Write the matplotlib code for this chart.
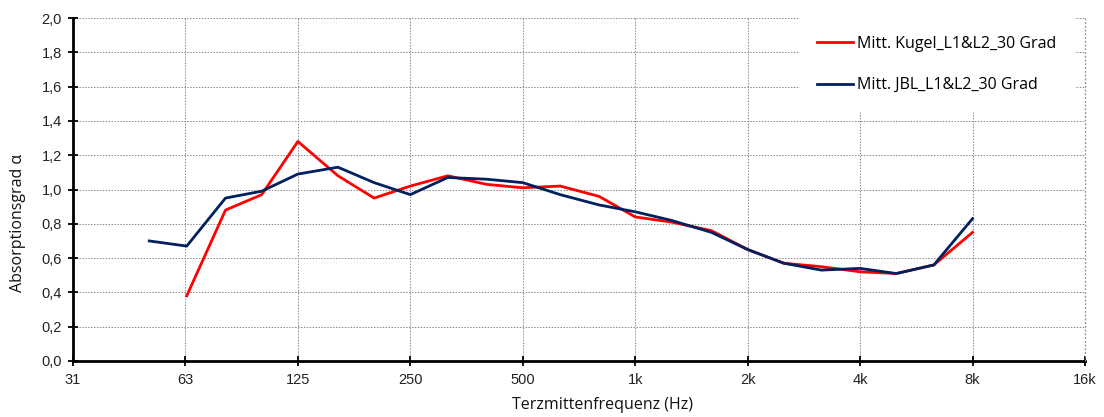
import matplotlib
matplotlib.use("Agg")
import matplotlib.pyplot as plt
from matplotlib.ticker import FixedLocator, FixedFormatter, NullLocator

# Third-octave band centre frequencies (Hz)
freq_kugel = [63, 80, 100, 125, 160, 200, 250, 315, 400, 500, 630, 800,
              1000, 1250, 1600, 2000, 2500, 3150, 4000, 5000, 6300, 8000]
alpha_kugel = [0.38, 0.88, 0.97, 1.28, 1.08, 0.95, 1.02, 1.08, 1.03, 1.01, 1.02, 0.96,
               0.84, 0.81, 0.76, 0.65, 0.57, 0.55, 0.52, 0.51, 0.56, 0.75]

freq_jbl = [50, 63, 80, 100, 125, 160, 200, 250, 315, 400, 500, 630, 800,
            1000, 1250, 1600, 2000, 2500, 3150, 4000, 5000, 6300, 8000]
alpha_jbl = [0.70, 0.67, 0.95, 0.99, 1.09, 1.13, 1.04, 0.97, 1.07, 1.06, 1.04, 0.97, 0.91,
             0.87, 0.82, 0.75, 0.65, 0.57, 0.53, 0.54, 0.51, 0.56, 0.83]

octave_ticks = [31.25, 62.5, 125, 250, 500, 1000, 2000, 4000, 8000, 16000]
octave_labels = ["31", "63", "125", "250", "500", "1k", "2k", "4k", "8k", "16k"]
y_ticks = [0.0, 0.2, 0.4, 0.6, 0.8, 1.0, 1.2, 1.4, 1.6, 1.8, 2.0]
y_labels = [f"{v:.1f}".replace(".", ",") for v in y_ticks]

label_font = "Open Sans"
tick_font = "Liberation Sans"

W, H = 1104, 417
fig = plt.figure(figsize=(W / 100, H / 100), dpi=100)
ax = fig.add_axes([73 / W, 1 - 361 / H, (1085 - 73) / W, (361 - 18) / H])

ax.plot(freq_kugel, alpha_kugel, color="#ff0000", lw=2.0, label="Mitt. Kugel_L1&L2_30 Grad", zorder=3)
ax.plot(freq_jbl, alpha_jbl, color="#002060", lw=2.0, label="Mitt. JBL_L1&L2_30 Grad", zorder=4)

ax.set_xscale("log")
ax.set_xlim(31.25, 16000)
ax.set_ylim(0, 2.0)
ax.xaxis.set_major_locator(FixedLocator(octave_ticks))
ax.xaxis.set_major_formatter(FixedFormatter(octave_labels))
ax.xaxis.set_minor_locator(NullLocator())
ax.yaxis.set_major_locator(FixedLocator(y_ticks))
ax.yaxis.set_major_formatter(FixedFormatter(y_labels))

ax.tick_params(axis="both", direction="inout", length=7, width=1.3, colors="black")
ax.tick_params(axis="y", pad=4.5)
ax.tick_params(axis="x", pad=5)
for lbl in ax.get_xticklabels() + ax.get_yticklabels():
    lbl.set_fontfamily(tick_font)
    lbl.set_fontsize(10.5)
    lbl.set_color("#222222")

ax.grid(True, which="major", color="#888888", linestyle=(0, (1.5, 1.5)), linewidth=0.7, zorder=0)
# right-hand boundary line at 16 kHz, kept above the legend box
ax.axvline(16000, color="#888888", linestyle=(0, (1.5, 1.5)), linewidth=0.9, clip_on=False, zorder=7)

for side in ("top", "right"):
    ax.spines[side].set_visible(False)
for side in ("left", "bottom"):
    ax.spines[side].set_linewidth(2.0)
    ax.spines[side].set_zorder(5)

fig.text(602 / W, 1 - 405 / H, "Terzmittenfrequenz (Hz)", fontfamily=label_font,
         fontsize=11.5, color="#111111", ha="center", va="center")
fig.text(18 / W, 1 - 223 / H, "Absorptionsgrad α", fontfamily=label_font,
         fontsize=11.5, color="#111111", ha="center", va="center", rotation=90)

leg = ax.legend(loc="upper left", bbox_to_anchor=(0.7174, 1.0), frameon=True, fancybox=False,
                edgecolor="white", facecolor="white", framealpha=1.0,
                prop={"family": label_font, "size": 11.5},
                handlelength=2.3, handletextpad=0.25, labelspacing=1.6,
                borderpad=1.1, borderaxespad=0.0)
leg.set_zorder(6)

fig.savefig("out.png", dpi=100)
